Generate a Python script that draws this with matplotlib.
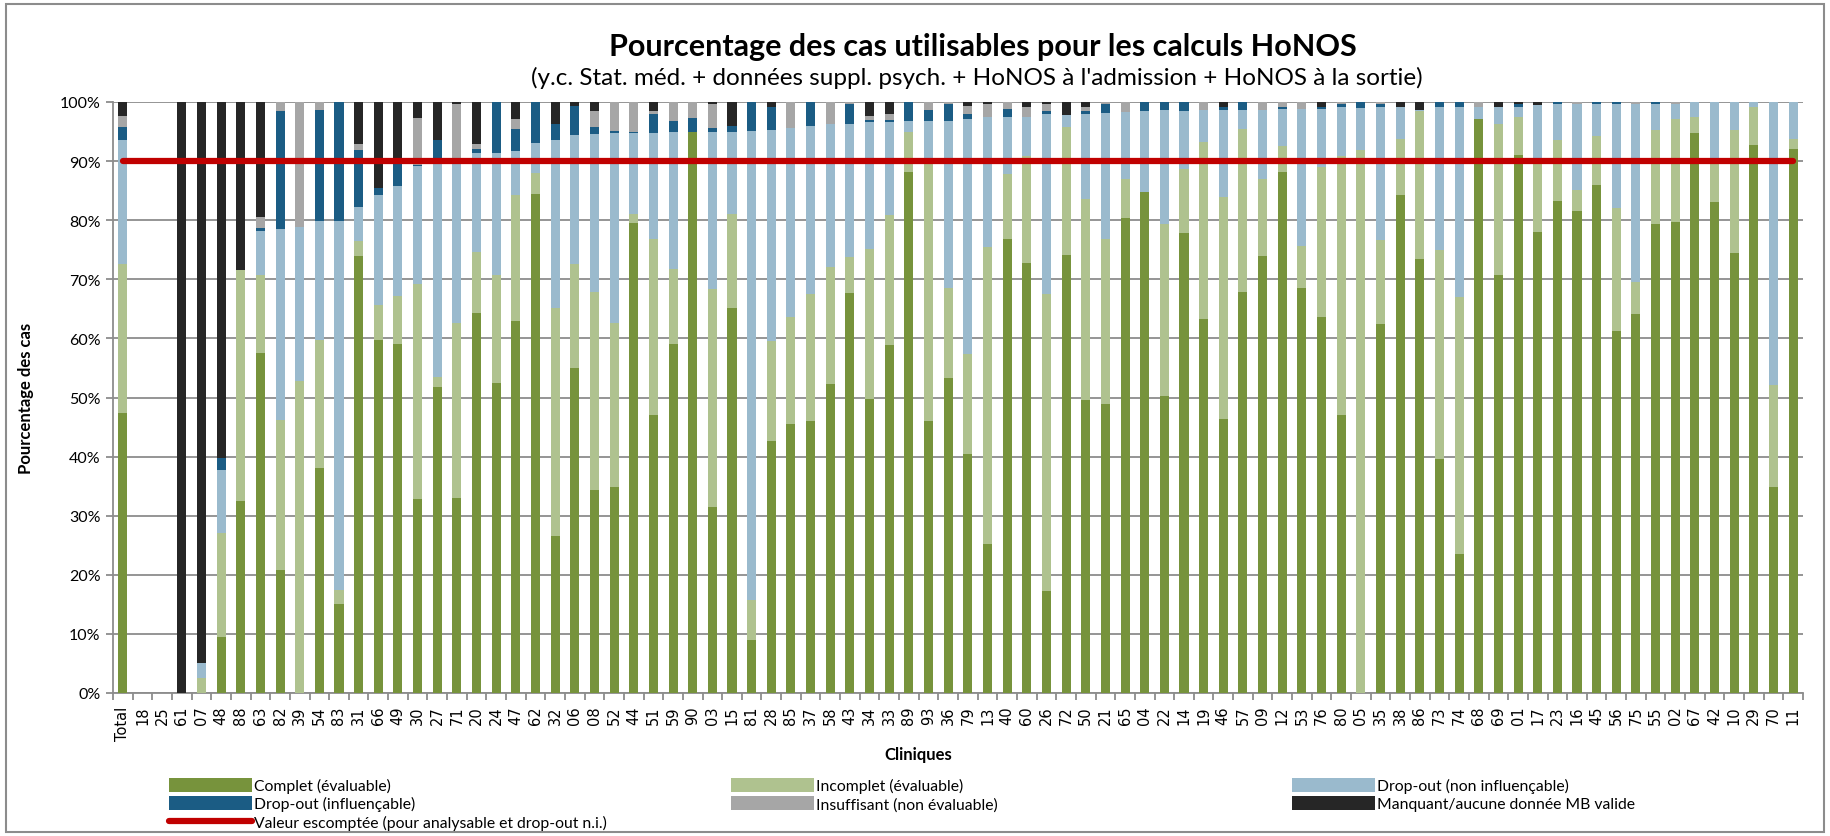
import matplotlib
matplotlib.use("Agg")
import matplotlib.pyplot as plt
import numpy as np
from matplotlib.patches import Rectangle, Patch
from matplotlib.lines import Line2D

cliniques = ["Total","18","25","61","07","48","88","63","82","39","54","83","31","66","49","30","27","71","20","24",
             "47","62","32","06","08","52","44","51","59","90","03","15","81","28","85","37","58","43","34","33",
             "89","93","36","79","13","40","60","26","72","50","21","65","04","22","14","19","46","57","09","12",
             "53","76","80","05","35","38","86","73","74","68","69","01","17","23","16","45","56","75","55","02",
             "67","42","10","29","70","11"]

complet = [47.4,0,0,0,0,9.4,32.5,57.6,20.8,0,38.0,15.1,73.9,59.8,59.1,32.8,51.7,33.0,64.3,52.5,
           62.9,84.4,26.6,55.0,34.4,34.8,79.5,47.1,59.1,94.9,31.4,65.2,9.0,42.6,45.5,46.1,52.2,67.7,49.7,58.8,
           88.2,46.1,53.3,40.5,25.2,76.8,72.8,17.2,74.1,49.5,48.9,80.4,84.7,50.3,77.8,63.3,46.4,67.8,73.9,88.2,
           68.5,63.7,47.1,0,62.5,84.3,73.5,39.6,23.6,97.1,70.7,91.0,78.0,83.3,81.5,86.0,61.2,64.1,79.4,79.7,
           94.7,83.1,74.5,92.8,34.8,92.0]
incomplet = [25.2,0,0,0,2.5,17.6,39.1,13.1,25.4,52.8,21.8,2.4,2.5,5.9,8.0,36.4,1.8,29.6,10.3,18.2,
             21.3,3.6,38.6,17.6,33.5,27.8,1.5,29.8,12.6,0,36.9,15.9,6.7,16.9,18.2,21.4,19.9,6.0,25.5,22.1,
             6.8,43.5,15.3,16.9,50.3,11.0,18.0,50.3,21.6,34.1,28.0,6.5,0,29.0,10.8,30.0,37.6,27.6,13.0,4.4,
             7.2,25.3,43.7,91.9,14.2,9.5,24.9,35.3,43.4,0,25.5,6.5,12.0,10.2,3.6,8.2,20.9,5.4,15.8,17.5,
             2.7,7.2,20.7,6.4,17.3,1.8]
dropout_ni = [21.0,0,0,0,2.6,10.7,0,7.4,32.3,26.1,20.1,62.4,5.9,18.5,18.7,19.9,36.1,28.0,16.7,20.6,
              7.5,5.1,28.3,21.8,26.7,32.1,13.7,17.8,23.2,0,26.7,13.9,79.4,35.7,31.9,28.4,24.2,22.6,21.4,15.7,
              1.8,7.2,28.2,39.7,22.0,9.6,6.7,30.5,2.1,14.4,21.3,11.4,13.8,19.3,9.9,5.3,14.6,3.2,11.8,6.3,
              23.2,9.9,8.3,7.1,22.4,5.3,0.3,24.2,32.1,2.1,3.0,1.7,9.5,6.1,14.5,5.4,17.6,30.1,4.5,2.5,
              2.6,9.7,4.8,0.8,47.9,6.2]
dropout_i = [2.1,0,0,0,0,2.1,0,0.6,20.0,0,18.8,20.1,9.6,1.3,4.8,0.3,4.0,0,0.7,8.7,
             3.7,6.9,2.8,4.9,1.2,0.4,0.2,3.3,1.9,2.4,0.6,0.9,4.9,4.0,0,4.1,0,3.3,0.4,0.4,
             3.2,1.9,2.8,0.8,0,1.5,0,0.5,0,0.4,1.4,0,1.5,1.4,1.5,0,0.5,1.4,0,0.3,
             0,0.3,0.5,1.0,0.5,0,0,0.9,0.9,0,0,0.4,0,0.4,0,0.4,0.3,0,0.3,0,
             0,0,0,0,0,0]
insuffisant = [2.0,0,0,0,0,0,0,1.9,1.5,21.1,1.3,0,1.0,0,0,7.9,0,9.0,0.9,0,
               1.8,0,0,0,2.6,4.9,5.1,0.5,3.2,2.7,4.0,0,0,0,4.4,0,3.7,0.4,0.7,0.9,
               0,1.3,0.4,1.5,2.1,1.1,1.7,1.1,0,0.8,0.4,1.7,0,0,0,1.4,0,0,1.3,0.8,
               1.1,0,0.4,0,0.4,0,0,0,0,0.8,0,0,0,0,0.4,0,0,0.4,0,0.3,
               0,0,0,0,0,0]
manquant = [2.3,0,0,100,94.9,60.2,28.4,19.4,0,0,0,0,7.1,14.5,9.4,2.7,6.4,0.4,7.1,0,
            2.8,0,3.7,0.7,1.6,0,0,1.5,0,0,0.4,4.1,0,0.8,0,0,0,0,2.3,2.1,
            0,0,0,0.6,0.4,0,0.8,0.4,2.2,0.8,0,0,0,0,0,0,0.9,0,0,0,
            0,0.8,0,0,0,0.9,1.3,0,0,0,0.8,0.4,0.5,0,0,0,0,0,0,0,
            0,0,0,0,0,0]
valeur_escomptee = 90

series = [
    ("Complet (évaluable)", complet, "#77933C"),
    ("Incomplet (évaluable)", incomplet, "#AFC28F"),
    ("Drop-out (non influençable)", dropout_ni, "#9ABACD"),
    ("Drop-out (influençable)", dropout_i, "#1B5C84"),
    ("Insuffisant (non évaluable)", insuffisant, "#A6A6A6"),
    ("Manquant/aucune donnée MB valide", manquant, "#262626"),
]

FONT = ["Lato", "DejaVu Sans"]
plt.rcParams["font.family"] = FONT

W, H = 1830, 837
fig = plt.figure(figsize=(W / 100, H / 100), dpi=100)
fig.patches.append(Rectangle((6 / W, 4 / H), 1 - 12 / W, 1 - 9 / H, transform=fig.transFigure,
                             fill=False, edgecolor="#8C8C8C", linewidth=1.5, zorder=0))

L, R, T, B = 113, 1803, 103, 694
ax = fig.add_axes([L / W, 1 - B / H, (R - L) / W, (B - T) / H])

x = np.arange(len(cliniques))
bottom = np.zeros(len(cliniques))
handles = {}
for name, vals, col in series:
    v = np.array(vals, dtype=float)
    ax.bar(x, v, bottom=bottom, width=0.46, color=col, zorder=3, linewidth=0)
    handles[name] = Patch(facecolor=col, edgecolor="none")
    bottom += v

ax.plot(x, [valeur_escomptee] * len(x), color="#C00000", linewidth=4.5,
        solid_capstyle="round", zorder=5)
red_name = "Valeur escomptée (pour analysable et drop-out n.i.)"

ax.set_xlim(-0.5, len(cliniques) - 0.5)
ax.set_ylim(0, 100)
ax.set_yticks(np.arange(0, 101, 10))
ax.set_yticklabels([f"{v}%" for v in range(0, 101, 10)], fontsize=11.5, family=FONT)
ax.yaxis.grid(True, color="#8C8C8C", linewidth=1.3, zorder=0)
ax.set_axisbelow(True)
for s in ["top", "right"]:
    ax.spines[s].set_visible(False)
for s in ["left", "bottom"]:
    ax.spines[s].set_color("#8C8C8C")
    ax.spines[s].set_linewidth(1.3)
ax.tick_params(axis="y", length=5, color="#8C8C8C", width=1.3, pad=4)

ax.set_xticks(np.arange(-0.5, len(cliniques), 1.0))
ax.set_xticklabels([])
ax.tick_params(axis="x", which="major", length=5, color="#8C8C8C", width=1.3)
ax.set_xticks(x, minor=True)
ax.set_xticklabels(cliniques, minor=True, rotation=90, fontsize=10.5, family="DejaVu Sans")
ax.tick_params(axis="x", which="minor", length=0, pad=9)

fig.text(983 / W, 1 - 47 / H, "Pourcentage des cas utilisables pour les calculs HoNOS",
         ha="center", va="center", fontsize=22, fontweight="bold")
fig.text(977 / W, 1 - 78 / H,
         "(y.c. Stat. méd. + données suppl. psych. + HoNOS à l'admission + HoNOS à la sortie)",
         ha="center", va="center", fontsize=17.5)
fig.text(918 / W, 1 - 755 / H, "Cliniques", ha="center", va="center", fontsize=12, fontweight="bold")
fig.text(26 / W, 1 - 398 / H, "Pourcentage des cas", ha="center", va="center", rotation=90,
         fontsize=12, fontweight="bold")

red_handle = Line2D([0], [0], color="#C00000", linewidth=4.5, solid_capstyle="round")
cols = [
    (169, [("Complet (évaluable)", handles["Complet (évaluable)"]),
           ("Drop-out (influençable)", handles["Drop-out (influençable)"]),
           (red_name, red_handle)]),
    (731, [("Incomplet (évaluable)", handles["Incomplet (évaluable)"]),
           ("Insuffisant (non évaluable)", handles["Insuffisant (non évaluable)"])]),
    (1292, [("Drop-out (non influençable)", handles["Drop-out (non influençable)"]),
            ("Manquant/aucune donnée MB valide", handles["Manquant/aucune donnée MB valide"])]),
]
for xpx, items in cols:
    fig.legend([h for _, h in items], [n for n, _ in items], loc="upper left",
               bbox_to_anchor=(xpx / W, 1 - 779 / H), frameon=False, fontsize=11.3,
               handlelength=5.3, handleheight=0.95, handletextpad=0.12, labelspacing=0.2,
               borderaxespad=0, borderpad=0)

fig.savefig("out.png", dpi=100)
